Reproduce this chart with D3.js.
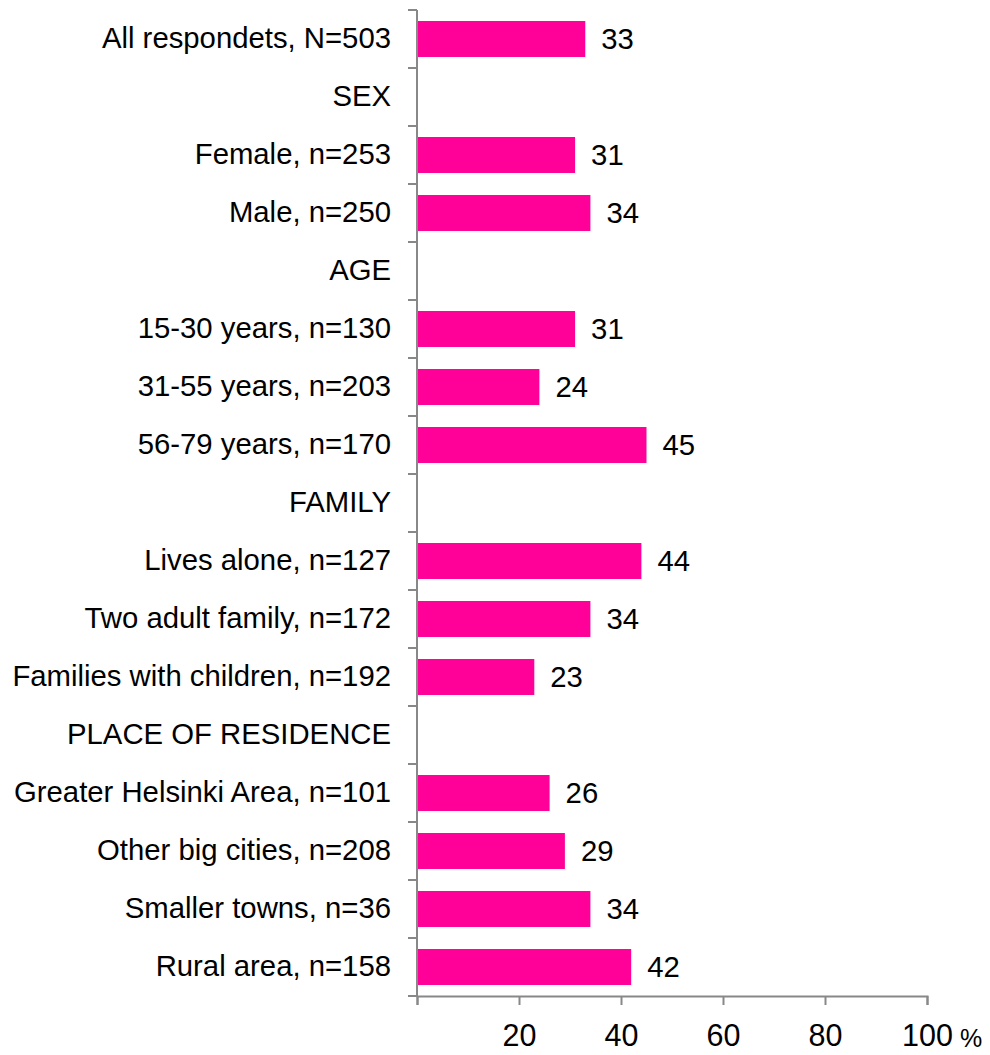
<!DOCTYPE html>
<meta charset="utf-8">
<style>
body { margin: 0; background: #fff; }
text { font-family: Arial, "Liberation Sans", sans-serif; fill: #000; }
.axis path, .axis line { stroke: #888888; stroke-width: 2px; }
</style>
<svg width="990" height="1055"></svg>
<script src="https://cdn.jsdelivr.net/npm/d3@7"></script>
<script>
// rows, top to bottom; null value = section heading with no bar
var categories = [
  "All respondets, N=503", "SEX", "Female, n=253", "Male, n=250",
  "AGE", "15-30 years, n=130", "31-55 years, n=203", "56-79 years, n=170",
  "FAMILY", "Lives alone, n=127", "Two adult family, n=172", "Families with children, n=192",
  "PLACE OF RESIDENCE", "Greater Helsinki Area, n=101", "Other big cities, n=208",
  "Smaller towns, n=36", "Rural area, n=158"
];
var values = [33, null, 31, 34, null, 31, 24, 45, null, 44, 34, 23, null, 26, 29, 34, 42];
var xTicks = [0, 20, 40, 60, 80, 100];

var svg = d3.select("svg");
var fontSize = "29.3px";

var x = d3.scaleLinear().domain([0, 100]).range([417, 927]);
var y = d3.scaleBand().domain(categories).range([10, 996])
    .paddingInner(0.38).paddingOuter(0.19);

var data = categories.map(function(c, i) { return {name: c, value: values[i]}; });
var withBars = data.filter(function(d) { return d.value != null; });

// bars
svg.selectAll(".bar")
  .data(withBars)
  .enter().append("rect")
    .attr("class", "bar")
    .attr("x", x(0))
    .attr("y", function(d) { return y(d.name); })
    .attr("width", function(d) { return x(d.value) - x(0); })
    .attr("height", y.bandwidth())
    .attr("fill", "#ff0099");

// value labels
svg.selectAll(".val")
  .data(withBars)
  .enter().append("text")
    .attr("class", "val")
    .attr("x", function(d) { return x(d.value) + 16; })
    .attr("y", function(d) { return y(d.name) + y.bandwidth() / 2; })
    .attr("dy", "0.35em")
    .style("font-size", fontSize)
    .text(function(d) { return d.value; });

// category labels
var yAxis = svg.append("g")
    .attr("class", "axis axis--y")
    .attr("transform", "translate(" + x(0) + ",0)")
    .call(d3.axisLeft(y).tickSize(0).tickPadding(26));
yAxis.select(".domain").remove();
yAxis.selectAll("text").style("font-size", fontSize);

// vertical axis line with ticks at band boundaries
var bounds = d3.range(categories.length + 1).map(function(i) { return 10 + i * y.step(); });
var yLine = svg.append("g").attr("class", "axis");
yLine.append("line")
    .attr("x1", x(0)).attr("x2", x(0))
    .attr("y1", bounds[0]).attr("y2", bounds[bounds.length - 1]);
yLine.selectAll(".btick")
  .data(bounds)
  .enter().append("line")
    .attr("class", "btick")
    .attr("x1", x(0) - 9).attr("x2", x(0))
    .attr("y1", function(d) { return d; })
    .attr("y2", function(d) { return d; });

// bottom axis
var xAxis = svg.append("g")
    .attr("class", "axis axis--x")
    .attr("transform", "translate(0," + bounds[bounds.length - 1] + ")")
    .call(d3.axisBottom(x).tickValues(xTicks).tickSizeOuter(0).tickSize(9).tickPadding(19)
      .tickFormat(function(d) { return d === 0 ? "" : d; }));
xAxis.selectAll("text").style("font-size", "30.5px");

svg.append("text")
    .attr("x", 960)
    .attr("y", 1047)
    .style("font-size", "25px")
    .text("%");
</script>
